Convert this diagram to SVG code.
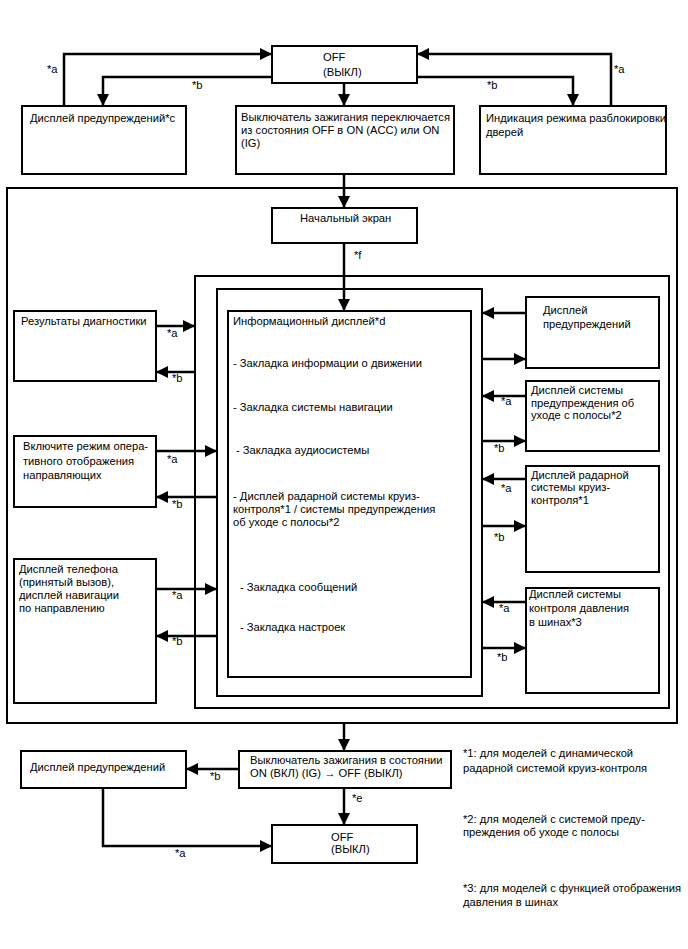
<svg xmlns="http://www.w3.org/2000/svg" width="688" height="949" viewBox="0 0 688 949">
<style>
text{font-family:"Liberation Sans",Arial,sans-serif;font-size:11.2px;fill:#000}
.box{fill:#fff;stroke:#000;stroke-width:2}
.frame{fill:none;stroke:#000;stroke-width:2}
.ca{fill:none;stroke:#000;stroke-width:2.5;marker-end:url(#ah)}
</style>
<defs>
<marker id="ah" markerUnits="userSpaceOnUse" markerWidth="12" markerHeight="12" refX="12" refY="6" orient="auto" viewBox="0 0 12 12"><path d="M0,0 L12,6 L0,12 z" fill="#000"/></marker>
</defs>
<rect width="688" height="949" fill="#fff"/>
<g id="frames">
<rect class="frame" x="7" y="188" width="670" height="535"/>
<rect class="frame" x="195" y="276" width="474" height="432"/>
<rect class="frame" x="217" y="289" width="265" height="407"/>
</g>
<g id="connectors">
<path class="ca" d="M64,106 V54 H272"/>
<path class="ca" d="M272,77 H103 V106"/>
<path class="ca" d="M611,106 V54 H417"/>
<path class="ca" d="M417,77 H573 V106"/>
<path class="ca" d="M344,83 V106"/>
<path class="ca" d="M344,174 V208"/>
<path class="ca" d="M344,243 V311"/>
<path class="ca" d="M156,326 H195"/>
<path class="ca" d="M195,372 H156"/>
<path class="ca" d="M156,451 H217"/>
<path class="ca" d="M217,497 H156"/>
<path class="ca" d="M156,589 H217"/>
<path class="ca" d="M217,636 H156"/>
<path class="ca" d="M526,313 H482"/>
<path class="ca" d="M482,359 H526"/>
<path class="ca" d="M526,396 H482"/>
<path class="ca" d="M482,441 H526"/>
<path class="ca" d="M526,479 H482"/>
<path class="ca" d="M482,526 H526"/>
<path class="ca" d="M526,602 H482"/>
<path class="ca" d="M482,648 H526"/>
<path class="ca" d="M344,723 V751"/>
<path class="ca" d="M239,769 H186"/>
<path class="ca" d="M344,788 V825"/>
<path class="ca" d="M103,788 V846 H272"/>
<text x="47" y="73">*a</text>
<text x="192" y="89">*b</text>
<text x="487" y="89">*b</text>
<text x="614" y="73">*a</text>
<text x="354" y="259">*f</text>
<text x="167" y="337">*a</text>
<text x="172" y="382">*b</text>
<text x="167" y="463">*a</text>
<text x="172" y="508">*b</text>
<text x="172" y="599">*a</text>
<text x="172" y="645">*b</text>
<text x="501" y="405">*a</text>
<text x="494" y="452">*b</text>
<text x="501" y="492">*a</text>
<text x="494" y="541">*b</text>
<text x="499" y="612">*a</text>
<text x="497" y="661">*b</text>
<text x="210" y="780">*b</text>
<text x="352" y="802">*e</text>
<text x="175" y="857">*a</text>
</g>
<g id="off-top">
<rect class="box" x="272" y="46" width="145" height="37"/>
<text x="323" y="61">OFF</text>
<text x="323" y="76">(ВЫКЛ)</text>
</g>
<g id="warn-c">
<rect class="box" x="22" y="106" width="164" height="68"/>
<text x="30" y="122">Дисплей предупреждений*c</text>
</g>
<g id="ign-on">
<rect class="box" x="236" y="106" width="218" height="68"/>
<text x="241" y="121">Выключатель зажигания переключается</text>
<text x="241" y="134">из состояния OFF в ON (ACC) или ON</text>
<text x="241" y="147">(IG)</text>
</g>
<g id="door">
<rect class="box" x="480" y="106" width="186" height="68"/>
<text x="486" y="122">Индикация режима разблокировки</text>
<text x="486" y="136">дверей</text>
</g>
<g id="home">
<rect class="box" x="272" y="208" width="145" height="35"/>
<text x="300" y="222">Начальный экран</text>
</g>
<g id="info">
<rect class="box" x="228" y="311" width="243" height="366"/>
<text x="233" y="325">Информационный дисплей*d</text>
<text x="233" y="367">- Закладка информации о движении</text>
<text x="233" y="411">- Закладка системы навигации</text>
<text x="236" y="454">- Закладка аудиосистемы</text>
<text x="233" y="500">- Дисплей радарной системы круиз-</text>
<text x="233" y="513">контроля*1 / системы предупреждения</text>
<text x="233" y="526">об уходе с полосы*2</text>
<text x="240" y="591">- Закладка сообщений</text>
<text x="240" y="631">- Закладка настроек</text>
</g>
<g id="diag">
<rect class="box" x="14" y="311" width="142" height="70"/>
<text x="21" y="325">Результаты диагностики</text>
</g>
<g id="guide">
<rect class="box" x="14" y="436" width="142" height="71"/>
<text x="23" y="450">Включите режим опера-</text>
<text x="23" y="465">тивного отображения</text>
<text x="23" y="479">направляющих</text>
</g>
<g id="phone">
<rect class="box" x="14" y="559" width="142" height="144"/>
<text x="19" y="573">Дисплей телефона</text>
<text x="19" y="586">(принятый вызов),</text>
<text x="19" y="599">дисплей навигации</text>
<text x="19" y="612">по направлению</text>
</g>
<g id="warn-r">
<rect class="box" x="526" y="297" width="133" height="71"/>
<text x="543" y="314">Дисплей</text>
<text x="543" y="328">предупреждений</text>
</g>
<g id="lane">
<rect class="box" x="526" y="381" width="133" height="70"/>
<text x="531" y="394">Дисплей системы</text>
<text x="531" y="407">предупреждения об</text>
<text x="531" y="419">уходе с полосы*2</text>
</g>
<g id="radar">
<rect class="box" x="526" y="466" width="133" height="106"/>
<text x="531" y="479">Дисплей радарной</text>
<text x="531" y="491">системы круиз-</text>
<text x="531" y="504">контроля*1</text>
</g>
<g id="tire">
<rect class="box" x="526" y="588" width="133" height="105"/>
<text x="529" y="598">Дисплей системы</text>
<text x="529" y="612">контроля давления</text>
<text x="529" y="626">в шинах*3</text>
</g>
<g id="warn-bottom">
<rect class="box" x="21" y="751" width="165" height="37"/>
<text x="30" y="771">Дисплей предупреждений</text>
</g>
<g id="ign-off">
<rect class="box" x="239" y="751" width="212" height="37"/>
<text x="250" y="764">Выключатель зажигания в состоянии</text>
<text x="250" y="777">ON (ВКЛ) (IG) → OFF (ВЫКЛ)</text>
</g>
<g id="off-bottom">
<rect class="box" x="272" y="825" width="145" height="38"/>
<text x="331" y="841">OFF</text>
<text x="331" y="853">(ВЫКЛ)</text>
</g>
<g id="notes">
<text x="463" y="757">*1: для моделей с динамической</text>
<text x="463" y="772">радарной системой круиз-контроля</text>
<text x="463" y="823">*2: для моделей с системой преду-</text>
<text x="463" y="836">преждения об уходе с полосы</text>
<text x="463" y="892">*3: для моделей с функцией отображения</text>
<text x="463" y="906">давления в шинах</text>
</g>
</svg>
